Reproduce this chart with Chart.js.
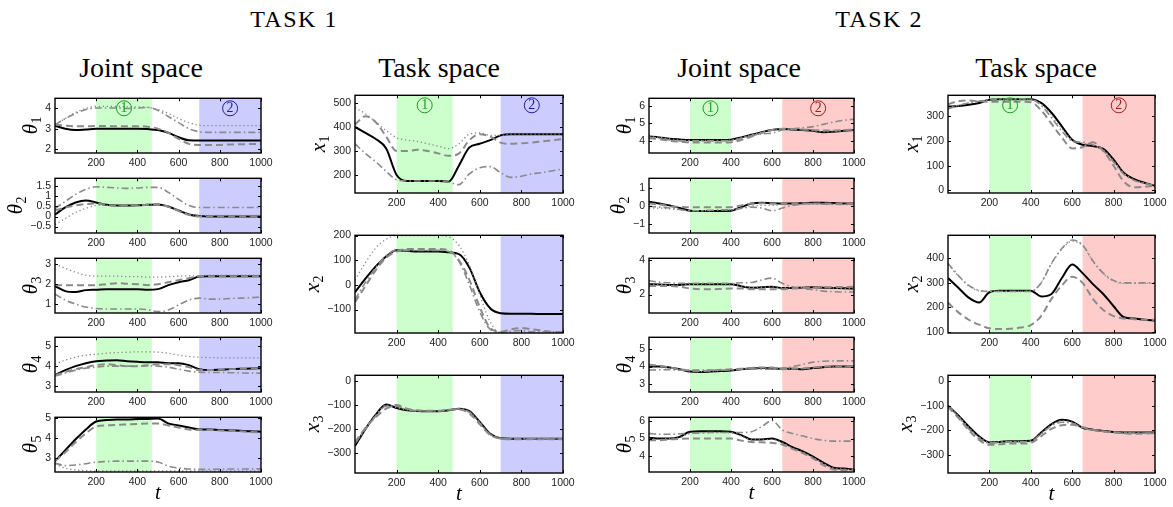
<!DOCTYPE html>
<html>
<head>
<meta charset="utf-8">
<script src="https://cdn.jsdelivr.net/npm/chart.js@4.4.1/dist/chart.umd.min.js"></script>
<style>
body { margin: 0; background: #fff; }
#fig { position: relative; width: 1173px; height: 507px; overflow: hidden; background: #fff; }
#fig canvas { position: absolute; }
.lbl { position: absolute; font-family: 'Liberation Serif', 'DejaVu Serif', serif; color: #000; white-space: nowrap; transform: translate(-50%, -50%); }
.task { font-size: 24px; letter-spacing: 1.5px; }
.space { font-size: 28px; }
</style>
</head>
<body>
<div id="fig">
  <div class="lbl task" style="left:294px;top:19px">TASK 1</div>
  <div class="lbl task" style="left:879px;top:19px">TASK 2</div>
  <div class="lbl space" style="left:141px;top:68px">Joint space</div>
  <div class="lbl space" style="left:439px;top:68px">Task space</div>
  <div class="lbl space" style="left:739px;top:68px">Joint space</div>
  <div class="lbl space" style="left:1036px;top:68px">Task space</div>
</div>
<script>
// temps (eje x común)
const t = [0, 50, 100, 150, 200, 250, 300, 350, 400, 450, 500, 550, 600, 650, 700, 750, 800, 850, 900, 950, 1000];
const tTicks = [200, 400, 600, 800, 1000];

// zonas sombreadas
const task1Green = [200, 470];
const task1Blue = [700, 1000];
const task2Green = [200, 400];
const task2Red = [650, 1000];

// ---- TASK 1, joint space ----
const task1_q1_lim = [1.8, 4.5];
const task1_q1_ticks = [2, 3, 4];
const task1_q1_solid = [3.15, 3.0, 2.93, 2.96, 3.0, 3.0, 3.0, 3.0, 3.0, 2.98, 2.93, 2.8, 2.58, 2.43, 2.42, 2.42, 2.42, 2.42, 2.42, 2.42, 2.42];
const task1_q1_dash = [3.2, 3.15, 3.12, 3.12, 3.13, 3.13, 3.12, 3.12, 3.12, 3.1, 3.0, 2.8, 2.5, 2.25, 2.2, 2.2, 2.2, 2.22, 2.23, 2.24, 2.25];
const task1_q1_dashdot = [3.2, 3.5, 3.75, 3.95, 4.02, 4.02, 4.02, 4.0, 4.02, 4.05, 3.9, 3.6, 3.3, 3.0, 2.85, 2.82, 2.82, 2.82, 2.82, 2.82, 2.82];
const task1_q1_dot = [3.2, 3.5, 3.8, 4.0, 4.1, 4.1, 4.1, 4.08, 4.08, 4.05, 3.95, 3.75, 3.5, 3.3, 3.17, 3.15, 3.15, 3.15, 3.15, 3.15, 3.15];

const task1_q2_lim = [-0.82, 1.9];
const task1_q2_ticks = [-0.5, 0, 0.5, 1, 1.5];
const task1_q2_solid = [0.1, 0.45, 0.7, 0.8, 0.7, 0.58, 0.55, 0.55, 0.56, 0.58, 0.6, 0.5, 0.3, 0.1, 0.02, 0, 0, 0, 0, 0, 0];
const task1_q2_dash = [0.3, 0.45, 0.55, 0.62, 0.65, 0.57, 0.55, 0.55, 0.56, 0.58, 0.6, 0.48, 0.28, 0.08, 0, 0, 0, 0, 0, 0, 0];
const task1_q2_dashdot = [0.4, 0.75, 1.1, 1.35, 1.48, 1.45, 1.42, 1.4, 1.42, 1.45, 1.45, 1.2, 0.85, 0.55, 0.45, 0.45, 0.45, 0.45, 0.45, 0.45, 0.45];
const task1_q2_dot = [-0.4, -0.1, 0.2, 0.4, 0.55, 0.55, 0.55, 0.55, 0.55, 0.57, 0.6, 0.5, 0.3, 0.12, 0.05, 0.05, 0.05, 0.05, 0.05, 0.05, 0.05];

const task1_q3_lim = [0.55, 3.3];
const task1_q3_ticks = [1, 2, 3];
const task1_q3_solid = [1.9, 1.65, 1.6, 1.7, 1.72, 1.75, 1.75, 1.75, 1.75, 1.72, 1.75, 1.95, 2.1, 2.2, 2.38, 2.4, 2.4, 2.4, 2.4, 2.4, 2.4];
const task1_q3_dash = [1.95, 1.95, 1.95, 1.95, 1.95, 2.0, 2.05, 2.02, 2.0, 1.95, 2.0, 2.1, 2.2, 2.3, 2.4, 2.4, 2.4, 2.4, 2.4, 2.4, 2.4];
const task1_q3_dashdot = [1.5, 1.2, 1.0, 0.85, 0.78, 0.75, 0.75, 0.75, 0.75, 0.72, 0.62, 0.7, 0.95, 1.2, 1.3, 1.25, 1.25, 1.28, 1.3, 1.32, 1.35];
const task1_q3_dot = [3.0, 2.8, 2.6, 2.45, 2.4, 2.4, 2.4, 2.38, 2.38, 2.35, 2.35, 2.38, 2.4, 2.42, 2.42, 2.45, 2.45, 2.45, 2.45, 2.45, 2.45];

const task1_q4_lim = [2.7, 5.45];
const task1_q4_ticks = [3, 4, 5];
const task1_q4_solid = [3.55, 3.8, 4.0, 4.15, 4.25, 4.28, 4.3, 4.25, 4.22, 4.2, 4.2, 4.15, 4.15, 4.05, 3.85, 3.8, 3.82, 3.85, 3.87, 3.88, 3.9];
const task1_q4_dash = [3.55, 3.7, 3.85, 3.95, 4.05, 4.1, 4.05, 4.0, 4.0, 4.05, 4.1, 4.1, 4.05, 3.95, 3.8, 3.8, 3.82, 3.85, 3.87, 3.88, 3.9];
const task1_q4_dashdot = [3.5, 3.65, 3.8, 3.9, 3.95, 4.0, 4.0, 4.0, 4.0, 4.02, 4.0, 3.95, 3.85, 3.75, 3.7, 3.68, 3.68, 3.67, 3.66, 3.65, 3.65];
const task1_q4_dot = [4.1, 4.3, 4.45, 4.55, 4.6, 4.65, 4.68, 4.7, 4.72, 4.72, 4.7, 4.65, 4.55, 4.48, 4.45, 4.43, 4.42, 4.42, 4.42, 4.42, 4.42];

const task1_q5_lim = [2.3, 5.06];
const task1_q5_ticks = [3, 4, 5];
const task1_q5_solid = [2.85, 3.4, 3.95, 4.45, 4.85, 4.92, 4.95, 4.95, 4.97, 4.98, 5.0, 4.75, 4.65, 4.55, 4.45, 4.45, 4.42, 4.4, 4.38, 4.36, 4.33];
const task1_q5_dash = [2.85, 3.3, 3.8, 4.25, 4.6, 4.65, 4.68, 4.7, 4.72, 4.75, 4.75, 4.65, 4.55, 4.45, 4.42, 4.42, 4.4, 4.38, 4.35, 4.32, 4.3];
const task1_q5_dashdot = [2.75, 2.62, 2.65, 2.72, 2.8, 2.83, 2.85, 2.85, 2.85, 2.85, 2.8, 2.6, 2.5, 2.45, 2.43, 2.43, 2.45, 2.45, 2.45, 2.46, 2.46];
const task1_q5_dot = [2.7, 2.5, 2.4, 2.37, 2.35, 2.35, 2.35, 2.35, 2.35, 2.35, 2.35, 2.35, 2.35, 2.35, 2.35, 2.35, 2.35, 2.35, 2.35, 2.35, 2.35];

// ---- TASK 1, task space ----
const task1_x1_lim = [125, 532];
const task1_x1_ticks = [200, 300, 400, 500];
const task1_x1_solid = [400, 375, 350, 310, 200, 175, 175, 175, 175, 172, 240, 315, 330, 345, 365, 370, 370, 370, 370, 370, 370];
const task1_x1_dash = [410, 445, 420, 360, 300, 300, 305, 300, 290, 280, 290, 345, 370, 360, 335, 330, 332, 335, 340, 345, 350];
const task1_x1_dashdot = [330, 290, 255, 215, 180, 175, 175, 175, 175, 170, 160, 205, 230, 235, 210, 190, 195, 205, 210, 218, 225];
const task1_x1_dot = [480, 455, 420, 385, 355, 345, 340, 330, 320, 310, 330, 370, 375, 365, 365, 370, 370, 370, 370, 370, 370];

const task1_x2_lim = [-195, 201];
const task1_x2_ticks = [-100, 0, 100, 200];
const task1_x2_solid = [-30, 25, 75, 115, 140, 138, 135, 135, 135, 132, 125, 70, -30, -95, -115, -117, -117, -117, -118, -118, -118];
const task1_x2_dash = [-70, -5, 60, 110, 135, 145, 145, 145, 145, 140, 100, 20, -90, -175, -190, -180, -175, -180, -185, -190, -192];
const task1_x2_dashdot = [-60, 10, 70, 120, 140, 140, 140, 140, 140, 135, 95, 0, -110, -180, -192, -188, -185, -190, -190, -190, -192];
const task1_x2_dot = [20, 90, 150, 185, 200, 200, 200, 200, 200, 195, 160, 80, -40, -150, -195, -195, -195, -195, -195, -195, -195];

const task1_x3_lim = [-383, 24];
const task1_x3_ticks = [-300, -200, -100, 0];
const task1_x3_solid = [-270, -200, -140, -98, -112, -122, -125, -126, -126, -122, -115, -125, -170, -220, -238, -240, -240, -240, -240, -240, -240];
const task1_x3_dash = [-255, -195, -150, -115, -100, -115, -122, -124, -124, -120, -118, -135, -180, -225, -240, -242, -242, -242, -242, -242, -242];
const task1_x3_dashdot = [-260, -200, -145, -105, -105, -118, -125, -125, -124, -120, -116, -130, -175, -222, -238, -241, -241, -241, -241, -241, -241];
const task1_x3_dot = [-265, -198, -142, -100, -110, -120, -124, -125, -125, -121, -116, -128, -172, -222, -239, -240, -240, -240, -240, -240, -240];

// ---- TASK 2, joint space ----
const task2_q1_lim = [3.3, 6.45];
const task2_q1_ticks = [4, 5, 6];
const task2_q1_solid = [4.25, 4.2, 4.12, 4.08, 4.05, 4.05, 4.05, 4.05, 4.07, 4.2, 4.35, 4.5, 4.62, 4.68, 4.65, 4.62, 4.58, 4.5, 4.52, 4.58, 4.62];
const task2_q1_dash = [4.15, 4.1, 4.0, 3.95, 3.9, 3.9, 3.9, 3.9, 3.92, 4.05, 4.25, 4.45, 4.62, 4.7, 4.68, 4.65, 4.62, 4.6, 4.6, 4.62, 4.65];
const task2_q1_dashdot = [4.2, 4.15, 4.05, 4.0, 4.0, 4.0, 4.0, 4.0, 4.02, 4.15, 4.3, 4.4, 4.45, 4.62, 4.7, 4.75, 4.82, 4.95, 5.08, 5.18, 5.25];
const task2_q1_dot = [4.25, 4.2, 4.12, 4.05, 4.02, 4.02, 4.02, 4.02, 4.05, 4.2, 4.35, 4.5, 4.62, 4.68, 4.65, 4.62, 4.58, 4.52, 4.52, 4.58, 4.62];

const task2_q2_lim = [-1.5, 1.57];
const task2_q2_ticks = [-1, 0, 1];
const task2_q2_solid = [0.25, 0.15, 0.05, -0.1, -0.25, -0.27, -0.27, -0.27, -0.25, -0.05, 0.15, 0.2, 0.17, 0.15, 0.15, 0.17, 0.2, 0.2, 0.18, 0.15, 0.15];
const task2_q2_dash = [0.15, 0.1, 0.0, -0.03, -0.05, -0.05, -0.05, -0.05, -0.05, 0.05, 0.15, 0.17, 0.15, 0.15, 0.15, 0.15, 0.15, 0.15, 0.15, 0.15, 0.15];
const task2_q2_dashdot = [0.0, -0.05, -0.1, -0.18, -0.25, -0.25, -0.22, -0.2, -0.2, -0.12, -0.05, -0.1, -0.25, -0.1, 0.05, 0.12, 0.15, 0.12, 0.1, 0.1, 0.1];
const task2_q2_dot = [-0.1, -0.1, -0.15, -0.2, -0.25, -0.25, -0.25, -0.22, -0.2, -0.1, 0.0, 0.05, 0.05, 0.08, 0.1, 0.12, 0.12, 0.12, 0.12, 0.12, 0.12];

const task2_q3_lim = [0.93, 4.1];
const task2_q3_ticks = [2, 4];
const task2_q3_solid = [2.6, 2.58, 2.55, 2.55, 2.6, 2.6, 2.6, 2.6, 2.6, 2.48, 2.4, 2.42, 2.45, 2.38, 2.38, 2.4, 2.42, 2.4, 2.38, 2.36, 2.35];
const task2_q3_dash = [2.5, 2.5, 2.5, 2.45, 2.35, 2.3, 2.3, 2.32, 2.35, 2.35, 2.3, 2.3, 2.3, 2.3, 2.35, 2.38, 2.4, 2.42, 2.43, 2.44, 2.45];
const task2_q3_dashdot = [2.8, 2.72, 2.68, 2.65, 2.65, 2.65, 2.65, 2.65, 2.65, 2.68, 2.7, 2.85, 2.95, 2.65, 2.45, 2.35, 2.28, 2.2, 2.17, 2.15, 2.15];
const task2_q3_dot = [2.6, 2.58, 2.55, 2.55, 2.58, 2.6, 2.6, 2.6, 2.6, 2.5, 2.42, 2.42, 2.45, 2.4, 2.38, 2.4, 2.42, 2.4, 2.38, 2.36, 2.35];

const task2_q4_lim = [2.57, 5.65];
const task2_q4_ticks = [3, 4, 5];
const task2_q4_solid = [4.0, 4.0, 3.95, 3.85, 3.72, 3.7, 3.72, 3.75, 3.78, 3.85, 3.9, 3.92, 3.9, 3.88, 3.88, 3.85, 3.92, 3.97, 4.0, 4.0, 4.0];
const task2_q4_dash = [4.1, 4.05, 3.95, 3.85, 3.78, 3.75, 3.78, 3.82, 3.85, 3.88, 3.92, 3.95, 3.95, 3.85, 3.88, 3.9, 3.95, 4.0, 4.0, 4.02, 4.02];
const task2_q4_dashdot = [3.8, 3.82, 3.82, 3.8, 3.8, 3.8, 3.8, 3.8, 3.82, 3.85, 3.88, 3.85, 3.85, 3.9, 4.0, 4.12, 4.25, 4.3, 4.32, 4.32, 4.32];
const task2_q4_dot = [3.95, 3.95, 3.9, 3.82, 3.75, 3.72, 3.74, 3.77, 3.8, 3.86, 3.9, 3.92, 3.9, 3.9, 3.9, 3.88, 3.92, 3.97, 4.0, 4.0, 4.0];

const task2_q5_lim = [3.05, 6.24];
const task2_q5_ticks = [4, 5, 6];
const task2_q5_solid = [5.05, 5.0, 5.0, 5.1, 5.4, 5.42, 5.42, 5.42, 5.4, 5.2, 4.95, 4.95, 5.0, 4.8, 4.5, 4.25, 3.95, 3.6, 3.3, 3.25, 3.2];
const task2_q5_dash = [4.9, 4.9, 4.95, 4.98, 5.0, 5.0, 5.0, 5.0, 5.0, 4.88, 4.8, 4.78, 4.75, 4.65, 4.4, 4.15, 3.85, 3.45, 3.2, 3.15, 3.15];
const task2_q5_dashdot = [5.3, 5.25, 5.25, 5.28, 5.3, 5.32, 5.35, 5.35, 5.35, 5.35, 5.4, 5.7, 6.05, 5.5, 5.3, 5.15, 5.0, 4.9, 4.85, 4.85, 4.85];
const task2_q5_dot = [5.0, 4.95, 5.0, 5.05, 5.3, 5.35, 5.35, 5.35, 5.33, 5.15, 4.92, 4.92, 4.95, 4.75, 4.45, 4.2, 3.9, 3.55, 3.28, 3.22, 3.18];

// ---- TASK 2, task space ----
const task2_x1_lim = [-11, 386];
const task2_x1_ticks = [0, 100, 200, 300];
const task2_x1_solid = [340, 343, 348, 355, 368, 370, 370, 370, 370, 355, 315, 260, 205, 185, 180, 168, 125, 70, 45, 30, 18];
const task2_x1_dash = [350, 362, 365, 362, 360, 360, 360, 360, 358, 325, 270, 215, 170, 175, 195, 160, 100, 35, 12, 14, 20];
const task2_x1_dashdot = [330, 345, 355, 362, 368, 372, 372, 372, 370, 345, 295, 240, 200, 195, 185, 160, 115, 65, 40, 28, 18];
const task2_x1_dot = [335, 345, 355, 362, 368, 370, 370, 370, 370, 350, 305, 250, 205, 192, 182, 165, 120, 68, 42, 29, 18];

const task2_x2_lim = [96, 494];
const task2_x2_ticks = [100, 200, 300, 400];
const task2_x2_solid = [320, 280, 240, 220, 262, 268, 268, 268, 268, 245, 255, 320, 375, 340, 295, 255, 205, 160, 155, 150, 147];
const task2_x2_dash = [220, 180, 150, 130, 115, 112, 113, 118, 128, 165, 235, 290, 325, 300, 235, 190, 165, 155, 152, 150, 150];
const task2_x2_dashdot = [380, 330, 290, 270, 265, 265, 265, 265, 265, 300, 380, 440, 475, 455, 390, 340, 310, 300, 300, 300, 300];
const task2_x2_dot = [375, 328, 288, 268, 266, 266, 266, 266, 266, 302, 378, 438, 470, 452, 388, 338, 308, 298, 298, 298, 298];

const task2_x3_lim = [-375, 24];
const task2_x3_ticks = [-300, -200, -100, 0];
const task2_x3_solid = [-100, -140, -185, -225, -250, -248, -245, -245, -243, -210, -175, -158, -165, -190, -198, -203, -208, -210, -210, -210, -210];
const task2_x3_dash = [-105, -150, -200, -240, -260, -258, -255, -255, -252, -225, -195, -180, -178, -188, -198, -205, -210, -213, -215, -214, -212];
const task2_x3_dashdot = [-100, -145, -195, -235, -252, -250, -248, -248, -246, -215, -182, -168, -172, -190, -200, -205, -208, -210, -212, -212, -212];
const task2_x3_dot = [-102, -142, -188, -228, -250, -248, -246, -246, -244, -212, -178, -162, -168, -190, -199, -204, -208, -210, -211, -211, -211];

// colores
const GREEN = 'rgb(204,255,204)';
const BLUE = 'rgb(204,204,255)';
const RED = 'rgb(255,204,204)';
const GRAY = '#8a8a8a';
const SERIF = "'Liberation Serif', 'DejaVu Serif', serif";
const SANS = "'Liberation Sans', Arial, sans-serif";
const TICK_FONT = { family: SANS, size: 10.5 };

const fig = document.getElementById('fig');

// Plugin: zonas sombreadas y marcas circulares
const zonasPlugin = {
    id: 'zonas',
    beforeDatasetsDraw(chart, args, opts) {
        const { ctx, chartArea: a, scales: { x } } = chart;
        ctx.save();
        opts.list.forEach(z => {
            const x0 = x.getPixelForValue(z.from);
            const x1 = x.getPixelForValue(z.to);
            ctx.fillStyle = z.color;
            ctx.fillRect(x0, a.top, x1 - x0, a.bottom - a.top);
        });
        ctx.restore();
    },
    afterDatasetsDraw(chart, args, opts) {
        const { ctx, chartArea: a, scales: { x } } = chart;
        ctx.save();
        opts.list.forEach(z => {
            if (!z.mark) return;
            const cx = (x.getPixelForValue(z.from) + x.getPixelForValue(z.to)) / 2;
            const cy = a.top + 10;
            ctx.strokeStyle = z.markColor;
            ctx.fillStyle = z.markColor;
            ctx.lineWidth = 1;
            ctx.beginPath();
            ctx.arc(cx, cy, 7.5, 0, Math.PI * 2);
            ctx.stroke();
            ctx.font = '14px ' + SERIF;
            ctx.textAlign = 'center';
            ctx.textBaseline = 'middle';
            ctx.fillText(z.mark, cx, cy + 0.5);
        });
        ctx.restore();
    }
};

// Plugin: marco y ticks interiores
const marcoPlugin = {
    id: 'marco',
    afterDraw(chart) {
        const { ctx, chartArea: a, scales: { x, y } } = chart;
        ctx.save();
        ctx.strokeStyle = '#000';
        ctx.lineWidth = 1;
        ctx.beginPath();
        x.ticks.forEach(tk => {
            const px = Math.round(x.getPixelForValue(tk.value)) + 0.5;
            ctx.moveTo(px, a.bottom); ctx.lineTo(px, a.bottom - 3);
            ctx.moveTo(px, a.top); ctx.lineTo(px, a.top + 3);
        });
        y.ticks.forEach(tk => {
            const py = Math.round(y.getPixelForValue(tk.value)) + 0.5;
            ctx.moveTo(a.left, py); ctx.lineTo(a.left + 3, py);
            ctx.moveTo(a.right, py); ctx.lineTo(a.right - 3, py);
        });
        ctx.stroke();
        ctx.lineWidth = 1.4;
        ctx.strokeRect(a.left, a.top, a.right - a.left, a.bottom - a.top);
        ctx.restore();
    }
};

// Plugin: etiqueta del eje y con subíndice (θ₁, x₁ ...)
const etiquetaYPlugin = {
    id: 'etiquetaY',
    afterDraw(chart, args, opts) {
        const { ctx, chartArea: a, scales: { y } } = chart;
        ctx.save();
        ctx.font = TICK_FONT.size + 'px ' + SANS;
        let w = 0;
        y.ticks.forEach(tk => { w = Math.max(w, ctx.measureText(String(tk.label)).width); });
        const bx = a.left - 4 - w - 8;
        const by = (a.top + a.bottom) / 2;
        ctx.translate(bx, by);
        ctx.rotate(-Math.PI / 2);
        ctx.fillStyle = '#000';
        ctx.textBaseline = 'alphabetic';
        ctx.textAlign = 'left';
        ctx.font = 'italic 21px ' + SERIF;
        const mw = ctx.measureText(opts.main).width;
        ctx.font = '14px ' + SERIF;
        const sw = ctx.measureText(opts.sub).width;
        const x0 = -(mw + sw) / 2;
        ctx.font = 'italic 21px ' + SERIF;
        ctx.fillText(opts.main, x0, 0);
        ctx.font = '14px ' + SERIF;
        ctx.fillText(opts.sub, x0 + mw + 0.5, 4);
        ctx.restore();
    }
};

const estilos = {
    solid: { borderColor: '#000', borderWidth: 2, borderDash: [], order: 2 },
    dash: { borderColor: GRAY, borderWidth: 2, borderDash: [7, 4], order: 1 },
    dashdot: { borderColor: GRAY, borderWidth: 1.6, borderDash: [7, 3, 1.5, 3], order: 1 },
    dot: { borderColor: GRAY, borderWidth: 1.3, borderDash: [1.3, 2.7], order: 1 }
};

function crearGrafica(cfg) {
    const YW = 60, PT = 8, PR = 16;
    const XH = cfg.bottom ? 34 : 16;
    const W = YW + cfg.w + PR;
    const H = PT + cfg.h + XH;
    const canvas = document.createElement('canvas');
    canvas.width = W;
    canvas.height = H;
    canvas.style.left = (cfg.left - YW) + 'px';
    canvas.style.top = (cfg.top - PT) + 'px';
    canvas.style.width = W + 'px';
    canvas.style.height = H + 'px';
    fig.appendChild(canvas);

    const datasets = ['dashdot', 'dot', 'dash', 'solid'].map(k => Object.assign({
        data: t.map((v, i) => ({ x: v, y: cfg.series[k][i] })),
        pointRadius: 0,
        fill: false,
        cubicInterpolationMode: 'monotone'
    }, estilos[k]));

    const fmt = v => String(v).replace('-', '\u2212');

    return new Chart(canvas, {
        type: 'line',
        data: { datasets },
        options: {
            responsive: false,
            animation: false,
            events: [],
            layout: { padding: { left: 0, top: PT, right: PR, bottom: 0 } },
            plugins: {
                legend: { display: false },
                tooltip: { enabled: false },
                zonas: { list: cfg.zonas },
                etiquetaY: { main: cfg.ylab[0], sub: cfg.ylab[1] }
            },
            scales: {
                x: {
                    type: 'linear', min: 0, max: 1000,
                    grid: { display: false, drawTicks: false },
                    border: { display: false },
                    afterBuildTicks: s => { s.ticks = tTicks.map(v => ({ value: v })); },
                    afterFit: s => { s.height = XH; },
                    ticks: { font: TICK_FONT, color: '#222', padding: 4, maxRotation: 0, autoSkip: false, callback: fmt },
                    title: {
                        display: !!cfg.bottom, text: 't', color: '#000',
                        font: { family: SERIF, size: 21, style: 'italic' },
                        padding: { top: 0, bottom: 0 }
                    }
                },
                y: {
                    type: 'linear', min: cfg.lim[0], max: cfg.lim[1],
                    grid: { display: false, drawTicks: false },
                    border: { display: false },
                    afterBuildTicks: s => { s.ticks = cfg.ticks.map(v => ({ value: v })); },
                    afterFit: s => { s.width = YW; },
                    ticks: { font: TICK_FONT, color: '#222', padding: 4, autoSkip: false, callback: fmt }
                }
            }
        },
        plugins: [zonasPlugin, marcoPlugin, etiquetaYPlugin]
    });
}

// posiciones de columnas y filas
const colJ1 = { left: 55, w: 206 };
const colX1 = { left: 355, w: 208 };
const colJ2 = { left: 649, w: 205 };
const colX2 = { left: 948, w: 207 };
const filasJ = [96, 176, 256, 335, 415];
const filasX = [93, 233, 373];

function zonas1(marca) {
    return [
        { from: task1Green[0], to: task1Green[1], color: GREEN, mark: marca ? '1' : null, markColor: '#1f9a1f' },
        { from: task1Blue[0], to: task1Blue[1], color: BLUE, mark: marca ? '2' : null, markColor: '#1c1ca0' }
    ];
}
function zonas2(marca) {
    return [
        { from: task2Green[0], to: task2Green[1], color: GREEN, mark: marca ? '1' : null, markColor: '#1f9a1f' },
        { from: task2Red[0], to: task2Red[1], color: RED, mark: marca ? '2' : null, markColor: '#a01c1c' }
    ];
}

const juntas1 = [
    [task1_q1_lim, task1_q1_ticks, { solid: task1_q1_solid, dash: task1_q1_dash, dashdot: task1_q1_dashdot, dot: task1_q1_dot }],
    [task1_q2_lim, task1_q2_ticks, { solid: task1_q2_solid, dash: task1_q2_dash, dashdot: task1_q2_dashdot, dot: task1_q2_dot }],
    [task1_q3_lim, task1_q3_ticks, { solid: task1_q3_solid, dash: task1_q3_dash, dashdot: task1_q3_dashdot, dot: task1_q3_dot }],
    [task1_q4_lim, task1_q4_ticks, { solid: task1_q4_solid, dash: task1_q4_dash, dashdot: task1_q4_dashdot, dot: task1_q4_dot }],
    [task1_q5_lim, task1_q5_ticks, { solid: task1_q5_solid, dash: task1_q5_dash, dashdot: task1_q5_dashdot, dot: task1_q5_dot }]
];
const tarea1 = [
    [task1_x1_lim, task1_x1_ticks, { solid: task1_x1_solid, dash: task1_x1_dash, dashdot: task1_x1_dashdot, dot: task1_x1_dot }],
    [task1_x2_lim, task1_x2_ticks, { solid: task1_x2_solid, dash: task1_x2_dash, dashdot: task1_x2_dashdot, dot: task1_x2_dot }],
    [task1_x3_lim, task1_x3_ticks, { solid: task1_x3_solid, dash: task1_x3_dash, dashdot: task1_x3_dashdot, dot: task1_x3_dot }]
];
const juntas2 = [
    [task2_q1_lim, task2_q1_ticks, { solid: task2_q1_solid, dash: task2_q1_dash, dashdot: task2_q1_dashdot, dot: task2_q1_dot }],
    [task2_q2_lim, task2_q2_ticks, { solid: task2_q2_solid, dash: task2_q2_dash, dashdot: task2_q2_dashdot, dot: task2_q2_dot }],
    [task2_q3_lim, task2_q3_ticks, { solid: task2_q3_solid, dash: task2_q3_dash, dashdot: task2_q3_dashdot, dot: task2_q3_dot }],
    [task2_q4_lim, task2_q4_ticks, { solid: task2_q4_solid, dash: task2_q4_dash, dashdot: task2_q4_dashdot, dot: task2_q4_dot }],
    [task2_q5_lim, task2_q5_ticks, { solid: task2_q5_solid, dash: task2_q5_dash, dashdot: task2_q5_dashdot, dot: task2_q5_dot }]
];
const tarea2 = [
    [task2_x1_lim, task2_x1_ticks, { solid: task2_x1_solid, dash: task2_x1_dash, dashdot: task2_x1_dashdot, dot: task2_x1_dot }],
    [task2_x2_lim, task2_x2_ticks, { solid: task2_x2_solid, dash: task2_x2_dash, dashdot: task2_x2_dashdot, dot: task2_x2_dot }],
    [task2_x3_lim, task2_x3_ticks, { solid: task2_x3_solid, dash: task2_x3_dash, dashdot: task2_x3_dashdot, dot: task2_x3_dot }]
];

juntas1.forEach((p, i) => crearGrafica({
    left: colJ1.left, w: colJ1.w, top: filasJ[i], h: 57, lim: p[0], ticks: p[1], series: p[2],
    ylab: ['\u03b8', String(i + 1)], zonas: zonas1(i === 0), bottom: i === 4
}));
tarea1.forEach((p, i) => crearGrafica({
    left: colX1.left, w: colX1.w, top: filasX[i], h: 100, lim: p[0], ticks: p[1], series: p[2],
    ylab: ['x', String(i + 1)], zonas: zonas1(i === 0), bottom: i === 2
}));
juntas2.forEach((p, i) => crearGrafica({
    left: colJ2.left, w: colJ2.w, top: filasJ[i], h: 57, lim: p[0], ticks: p[1], series: p[2],
    ylab: ['\u03b8', String(i + 1)], zonas: zonas2(i === 0), bottom: i === 4
}));
tarea2.forEach((p, i) => crearGrafica({
    left: colX2.left, w: colX2.w, top: filasX[i], h: 100, lim: p[0], ticks: p[1], series: p[2],
    ylab: ['x', String(i + 1)], zonas: zonas2(i === 0), bottom: i === 2
}));
</script>
</body>
</html>
